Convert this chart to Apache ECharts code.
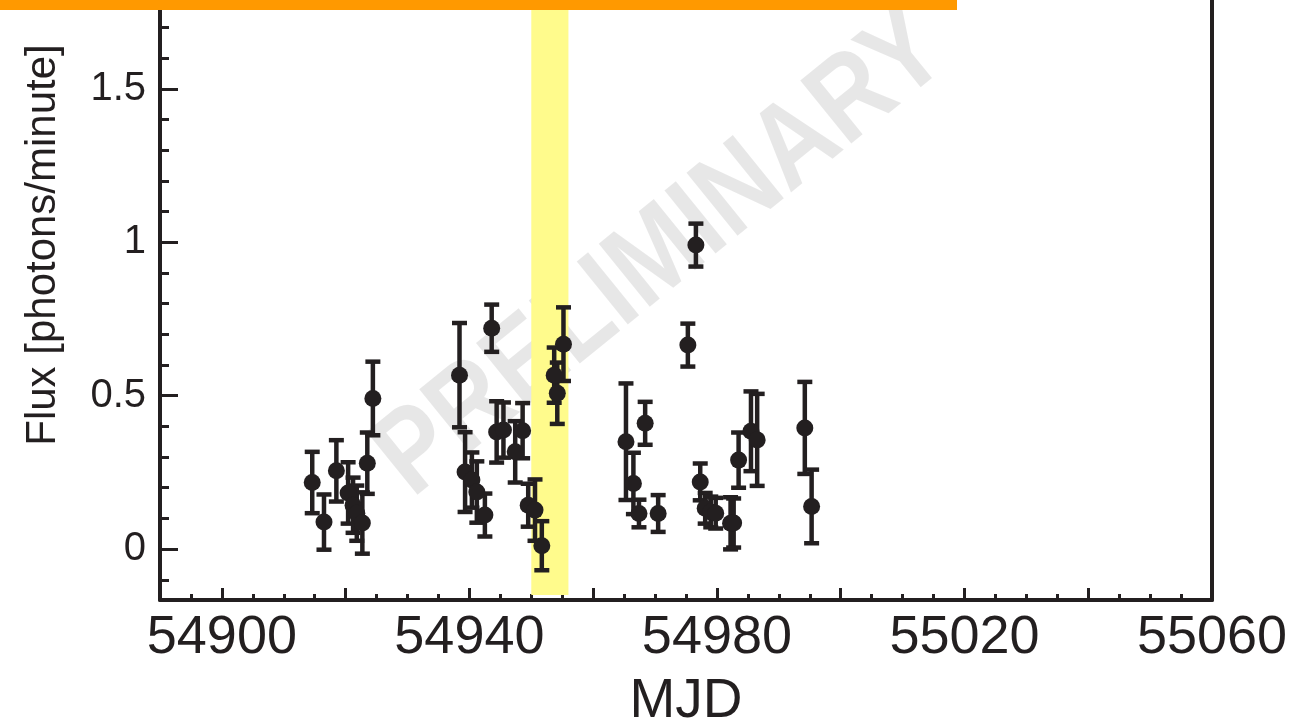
<!DOCTYPE html>
<html>
<head>
<meta charset="utf-8">
<script src="https://cdn.jsdelivr.net/npm/echarts@6/dist/echarts.min.js"></script>
<style>
html,body{margin:0;padding:0;background:#fff;}
#chart{width:1294px;height:726px;}
</style>
</head>
<body>
<div id="chart"></div>
<script>
// ---- data ----
const mjd = [54914.6, 54916.5, 54918.5, 54920.4, 54921.2, 54921.8, 54922.7, 54923.5, 54924.4,
  54938.4, 54939.3, 54940.4, 54941.2, 54942.5, 54943.6, 54944.4, 54945.5, 54947.4, 54948.6,
  54949.5, 54950.6, 54951.7, 54953.7, 54954.2, 54955.2,
  54965.3, 54966.5, 54967.4, 54968.4, 54970.5, 54975.3, 54976.6, 54977.3, 54978.1, 54979.0,
  54979.8, 54982.2, 54982.7, 54983.5, 54985.5, 54986.5, 54994.2, 54995.3];
const flux = [0.217, 0.088, 0.255, 0.183, 0.143, 0.117, 0.085, 0.28, 0.491,
  0.567, 0.251, 0.225, 0.186, 0.111, 0.72, 0.382, 0.388, 0.317, 0.386,
  0.143, 0.127, 0.011, 0.567, 0.508, 0.668,
  0.35, 0.214, 0.116, 0.41, 0.116, 0.665, 0.991, 0.219, 0.133, 0.121,
  0.117, 0.084, 0.085, 0.29, 0.384, 0.356, 0.395, 0.139];
const fluxErr = [0.10, 0.09, 0.10, 0.10, 0.09, 0.09, 0.10, 0.10, 0.12,
  0.17, 0.13, 0.09, 0.10, 0.07, 0.077, 0.10, 0.09, 0.10, 0.09,
  0.07, 0.10, 0.08, 0.09, 0.10, 0.12,
  0.19, 0.10, 0.045, 0.07, 0.06, 0.07, 0.07, 0.06, 0.05, 0.05,
  0.05, 0.085, 0.08, 0.09, 0.13, 0.15, 0.15, 0.12];
const highlightWindow = [54950.0, 54956.0];
const xRange = [54890, 55060];
const yRange = [-0.166, 1.79];
const xMajorTicks = [54900, 54920, 54940, 54960, 54980, 55000, 55020, 55040, 55060];
const xTickLabels = [54900, 54940, 54980, 55020, 55060];
const yMajorTicks = [0, 0.5, 1, 1.5];
const yMinorTicks = [-0.1, 0, 0.1, 0.2, 0.3, 0.4, 0.5, 0.6, 0.7, 0.8, 0.9, 1.0, 1.1, 1.2, 1.3, 1.4, 1.5, 1.6, 1.7];
const xTitle = 'MJD';
const yTitle = 'Flux [photons/minute]';
const watermark = 'PRELIMINARY';

// ---- chart ----
const INK = '#231f20';
const FONT = '"Liberation Sans", Arial, Helvetica, sans-serif';
const points = mjd.map((m, i) => [m, flux[i], fluxErr[i]]);

const chart = echarts.init(document.getElementById('chart'), null, {renderer: 'canvas'});

const baseX = {type: 'value', min: xRange[0], max: xRange[1], position: 'bottom', splitLine: {show: false}};
const baseY = {type: 'value', min: yRange[0], max: yRange[1], splitLine: {show: false}};

chart.setOption({
  animation: false,
  backgroundColor: '#ffffff',
  grid: {left: 160, right: 82, top: 0, bottom: 126, containLabel: false, outerBoundsMode: 'none'},
  xAxis: [
    Object.assign({}, baseX, {
      axisLine: {show: true, onZero: false, lineStyle: {color: INK, width: 4}},
      axisTick: {show: true, inside: true, length: 12, lineStyle: {color: INK, width: 3}, customValues: xMajorTicks},
      axisLabel: {show: true, customValues: xTickLabels, color: INK, fontFamily: FONT, fontSize: 54, margin: 11,
        formatter: v => String(v)},
      name: xTitle, nameLocation: 'middle', nameGap: 74,
      nameTextStyle: {color: INK, fontFamily: FONT, fontSize: 55}
    }),
    Object.assign({}, baseX, {
      interval: 5,
      axisLine: {show: false, onZero: false},
      axisTick: {show: true, inside: true, length: 6, lineStyle: {color: INK, width: 3}},
      axisLabel: {show: false}
    })
  ],
  yAxis: [
    Object.assign({}, baseY, {
      position: 'left',
      axisLine: {show: true, onZero: false, lineStyle: {color: INK, width: 4}},
      axisTick: {show: true, inside: true, length: 18, lineStyle: {color: INK, width: 3}, customValues: yMajorTicks},
      axisLabel: {show: true, customValues: yMajorTicks, color: INK, fontFamily: FONT, fontSize: 40, margin: 14,
        formatter: v => String(v)}
    }),
    Object.assign({}, baseY, {
      position: 'left',
      axisLine: {show: false, onZero: false},
      axisTick: {show: true, inside: true, length: 9, lineStyle: {color: INK, width: 3}, customValues: yMinorTicks},
      axisLabel: {show: false}
    }),
    Object.assign({}, baseY, {
      position: 'right',
      axisLine: {show: true, onZero: false, lineStyle: {color: INK, width: 4}},
      axisTick: {show: false},
      axisLabel: {show: false}
    })
  ],
  graphic: [
    {
      type: 'text', z: 1, x: 662, y: 255, rotation: 39 * Math.PI / 180, scaleX: 0.86,
      style: {text: watermark, fill: 'rgba(0,0,0,0.095)', font: 'bold 118px ' + FONT,
        align: 'center', verticalAlign: 'middle'}
    },
    {
      type: 'text', z: 5, x: 43, y: 245, rotation: Math.PI / 2,
      style: {text: yTitle, fill: INK, font: '42px ' + FONT, align: 'center', verticalAlign: 'middle'}
    },
    {
      type: 'rect', z: 100, shape: {x: 0, y: 0, width: 957, height: 10},
      style: {fill: '#ff9900'}
    }
  ],
  series: [
    {
      type: 'scatter', xAxisIndex: 0, yAxisIndex: 0, data: [], z: 0, silent: true,
      markArea: {
        silent: true,
        itemStyle: {color: 'rgb(255,251,140)'},
        data: [[{xAxis: highlightWindow[0], yAxis: -0.15}, {xAxis: highlightWindow[1], yAxis: yRange[1]}]]
      }
    },
    {
      type: 'custom', xAxisIndex: 0, yAxisIndex: 0, z: 3, silent: true,
      data: points,
      encode: {x: 0, y: 1},
      renderItem: function (params, api) {
        const x = api.value(0), y = api.value(1), e = api.value(2);
        const top = api.coord([x, y + e]);
        const bot = api.coord([x, y - e]);
        const hw = 7.5;
        const st = {stroke: INK, lineWidth: 4.5, fill: null};
        return {
          type: 'group',
          children: [
            {type: 'line', shape: {x1: top[0], y1: top[1], x2: bot[0], y2: bot[1]}, style: st},
            {type: 'line', shape: {x1: top[0] - hw, y1: top[1], x2: top[0] + hw, y2: top[1]}, style: st},
            {type: 'line', shape: {x1: bot[0] - hw, y1: bot[1], x2: bot[0] + hw, y2: bot[1]}, style: st}
          ]
        };
      }
    },
    {
      type: 'scatter', xAxisIndex: 0, yAxisIndex: 0, z: 4, silent: true,
      symbol: 'circle', symbolSize: 17,
      itemStyle: {color: INK, opacity: 1},
      data: points.map(p => [p[0], p[1]])
    }
  ]
});
</script>
</body>
</html>
